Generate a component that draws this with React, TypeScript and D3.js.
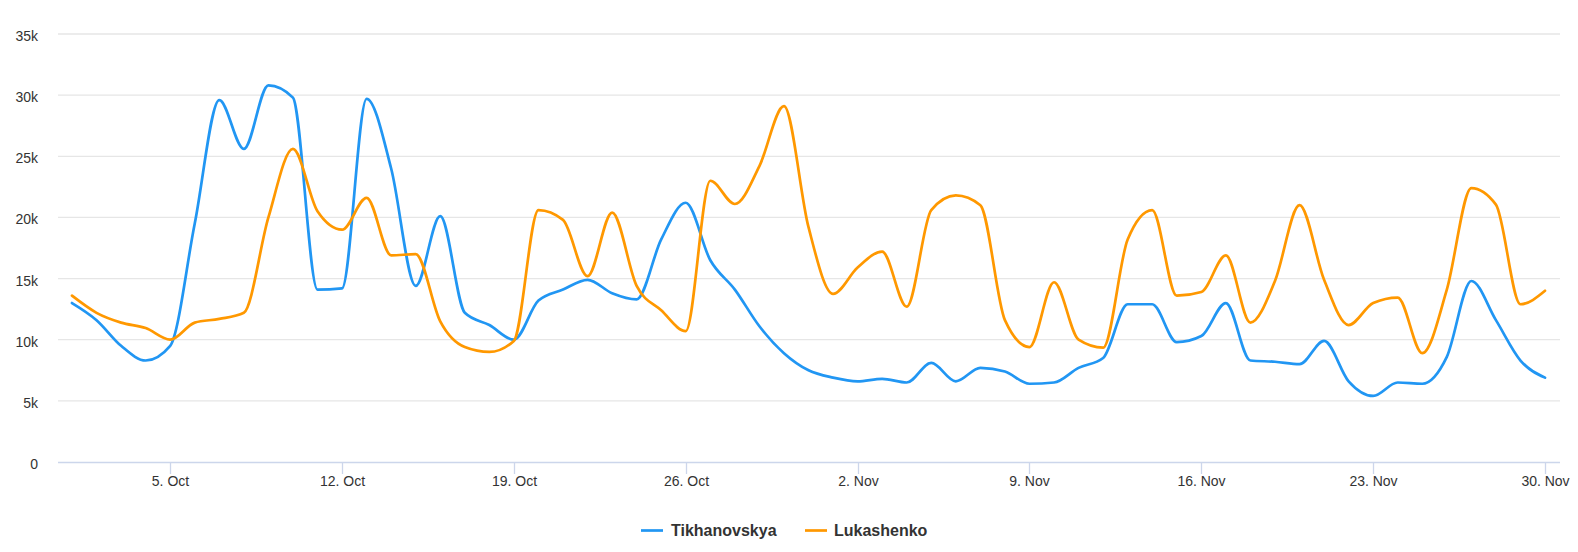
import React from "react";
import * as d3 from "d3";

// ---- data ----
const startDate = "2020-10-01";
const tikhanovskya = [
  13000, 11600, 9500, 8300, 9500, 19500, 29600, 25600, 30800, 29800,
  14100, 14200, 29700, 24000, 14400, 20100, 12200, 11200, 10000, 13200,
  14100, 14900, 13800, 13300, 18200, 21200, 16500, 14100, 11100, 8900,
  7500, 6900, 6600, 6800, 6500, 8100, 6600, 7700, 7400, 6400,
  6500, 7700, 8500, 12900, 12900, 9800, 10300, 13000, 8300, 8200,
  8000, 9900, 6600, 5400, 6500, 6400, 8600, 14800, 11600, 8300,
  6900,
];
const lukashenko = [
  13600, 12200, 11400, 10950, 10000, 11400, 11700, 12200, 20000, 25600,
  20500, 19000, 21600, 16900, 17000, 11500, 9400, 9000, 9900, 20600,
  19800, 15200, 20400, 14400, 12400, 10700, 23000, 21100, 24200, 29100,
  19200, 13750, 15900, 17200, 12700, 20600, 21800, 21000, 11600, 9400,
  14700, 10000, 9350, 18200, 20600, 13600, 13900, 16900, 11400, 14800,
  21000, 14900, 11200, 13000, 13450, 8900, 14100, 22400, 21050, 12900,
  14000,
];
const seriesNames = ["Tikhanovskya", "Lukashenko"];
const seriesColors = ["#2196f3", "#ff9800"];
const yTicks = [0, 5000, 10000, 15000, 20000, 25000, 30000, 35000];
const yTickLabels = ["0", "5k", "10k", "15k", "20k", "25k", "30k", "35k"];
const xTickDates = ["2020-10-05", "2020-10-12", "2020-10-19", "2020-10-26", "2020-11-02", "2020-11-09", "2020-11-16", "2020-11-23", "2020-11-30"];
const xTickLabels = ["5. Oct", "12. Oct", "19. Oct", "26. Oct", "2. Nov", "9. Nov", "16. Nov", "23. Nov", "30. Nov"];

const W = 1578;
const H = 552;
const plotLeft = 58;
const plotRight = 1560;
const plotTop = 34;
const plotBottom = 462;
const FONT = "'Liberation Sans', Arial, Helvetica, sans-serif";

export default function App() {
  const start = new Date(startDate + "T00:00:00Z");
  const dates = tikhanovskya.map((_, i) => d3.utcDay.offset(start, i));
  const dayMs = 86400000;
  const first = dates[0].getTime();
  const last = dates[dates.length - 1].getTime();
  const x = d3
    .scaleUtc()
    .domain([new Date(first - 0.57 * dayMs), new Date(last + 0.61 * dayMs)])
    .range([plotLeft, plotRight]);
  const y = d3.scaleLinear().domain([0, 35000]).range([plotBottom, plotTop]);

  const line = d3
    .line<number>()
    .x((_, i) => x(dates[i]))
    .y((d) => y(d))
    .curve(d3.curveMonotoneX);

  const series = [tikhanovskya, lukashenko];

  const legendItems = [
    { sx: 641, tx: 671 },
    { sx: 805, tx: 834 },
  ];

  return (
    <svg
      width={W}
      height={H}
      style={{ position: "absolute", left: 0, top: 0, display: "block", background: "#fff" }}
      fontFamily={FONT}
    >
      {/* grid */}
      {yTicks.map((t, i) =>
        t === 0 ? null : (
          <line key={"g" + i} x1={plotLeft} x2={plotRight} y1={y(t)} y2={y(t)} stroke="#e6e6e6" strokeWidth={1.3} />
        )
      )}
      {/* y labels */}
      {yTicks.map((t, i) => (
        <text key={"yl" + i} x={38} y={y(t) + 7} textAnchor="end" fontSize={14} fill="#333333">
          {yTickLabels[i]}
        </text>
      ))}
      {/* x axis */}
      <line x1={plotLeft} x2={plotRight} y1={plotBottom + 0.5} y2={plotBottom + 0.5} stroke="#ccd6eb" strokeWidth={1.5} />
      {xTickDates.map((ds, i) => {
        const xx = Math.round(x(new Date(ds + "T00:00:00Z"))) + 0.5;
        return (
          <g key={"xt" + i}>
            <line x1={xx} x2={xx} y1={plotBottom} y2={plotBottom + 12} stroke="#ccd6eb" strokeWidth={1.3} />
            <text x={xx} y={486} textAnchor="middle" fontSize={14} fill="#333333">
              {xTickLabels[i]}
            </text>
          </g>
        );
      })}
      {/* series */}
      {series.map((s, i) => (
        <path
          key={"s" + i}
          d={line(s) || ""}
          fill="none"
          stroke={seriesColors[i]}
          strokeWidth={2.7}
          strokeLinejoin="round"
          strokeLinecap="round"
        />
      ))}
      {/* legend */}
      {legendItems.map((it, i) => (
        <g key={"lg" + i}>
          <line x1={it.sx} x2={it.sx + 22} y1={530.5} y2={530.5} stroke={seriesColors[i]} strokeWidth={2.7} />
          <text x={it.tx} y={536} fontSize={16} fontWeight="bold" fill="#333333">
            {seriesNames[i]}
          </text>
        </g>
      ))}
    </svg>
  );
}
